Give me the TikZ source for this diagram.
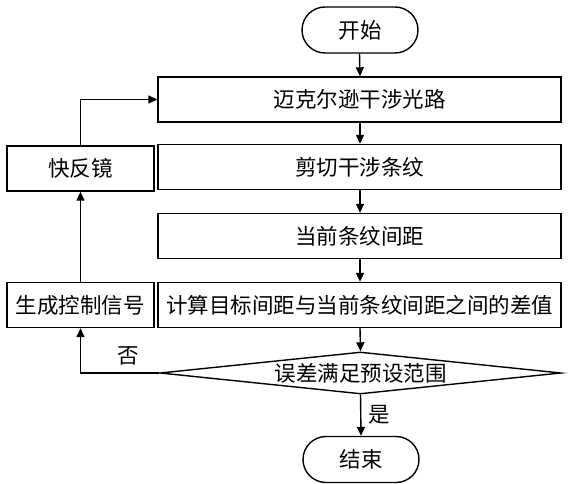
\documentclass[tikz,border=0pt]{standalone}
\usepackage{fontspec}
\newfontfamily\cjk{Noto Sans CJK SC}
\usetikzlibrary{arrows.meta,shapes.geometric}
\begin{document}
\begin{tikzpicture}[x=1pt,y=-1pt,
  every node/.style={font=\cjk\fontsize{21.5pt}{25pt}\selectfont},
  base/.style={draw,line width=1.4pt,inner sep=0pt},
  term/.style={base,rounded corners=23pt,minimum width=116pt,minimum height=46pt},
  mainbox/.style={base,minimum width=403pt,minimum height=45pt},
  sidebox/.style={base,minimum width=147pt,minimum height=45pt},
  decide/.style={base,shape=diamond,aspect=9.5,minimum width=401pt,minimum height=42pt},
  arr/.style={line width=1.4pt,-{Triangle[length=9pt,width=8pt]}},
  lbl/.style={inner sep=3pt}]
\useasboundingbox (0,0) rectangle (570,484);
\node[term] (start) at (360,30) {开始};
\node[mainbox] (b1) at (359.5,99.5) {迈克尔逊干涉光路};
\node[mainbox] (b2) at (359.5,167) {剪切干涉条纹};
\node[mainbox] (b3) at (359.5,236) {当前条纹间距};
\node[mainbox] (b4) at (359.5,305) {计算目标间距与当前条纹间距之间的差值};
\node[decide] (d) at (360.5,373) {误差满足预设范围};
\node[term] (stop) at (361,459.5) {结束};
\node[sidebox] (fm) at (80.5,168.5) {快反镜};
\node[sidebox] (gen) at (80.5,305) {生成控制信号};
\draw[arr] (start.south -| b1) -- (b1.north -| start);
\draw[arr] (b1.south -| start) -- (b2.north -| start);
\draw[arr] (b2.south -| start) -- (b3.north -| start);
\draw[arr] (b3.south -| start) -- (b4.north -| start);
\draw[arr] (b4.south -| start) -- (d.north);
\draw[arr] (d.south) -- (stop.north) node[lbl,midway,right,xshift=4pt] {是};
\draw[arr] (d.west) -- (d.west -| gen) node[lbl,pos=0.4,above,yshift=4pt] {否} -- (gen.south);
\draw[arr] (gen.north) -- (fm.south);
\draw[arr] (fm.north) |- (b1.west);
\end{tikzpicture}
\end{document}
